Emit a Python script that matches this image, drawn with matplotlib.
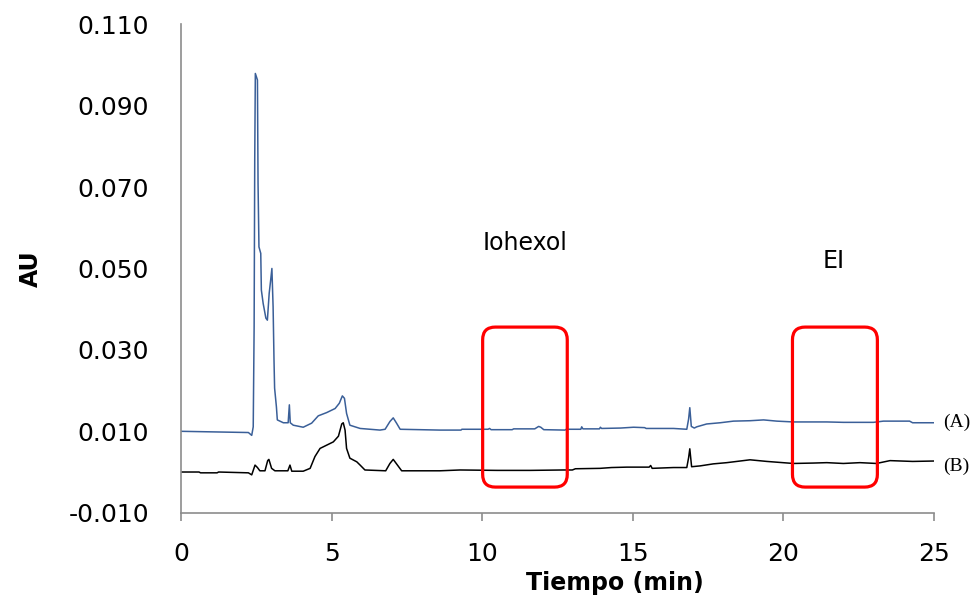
import numpy as np
import matplotlib.pyplot as plt
from matplotlib.patches import FancyBboxPatch

# chromatogram (A): time (min) and absorbance (AU)
time_a = [0, 2.24, 2.35, 2.40, 2.43, 2.45, 2.47, 2.54, 2.56, 2.59, 2.65, 2.67, 2.73, 2.82, 2.87,
          2.93, 2.98, 3.02, 3.06, 3.09, 3.11, 3.17, 3.20, 3.40, 3.56, 3.60, 3.63, 3.73, 4.06, 4.34,
          4.56, 4.84, 5.12, 5.26, 5.36, 5.43, 5.50, 5.61, 5.95, 6.61, 6.78, 6.94, 7.05, 7.16, 7.28,
          8.60, 9.30, 9.33, 10.20, 10.25, 10.30, 11.00, 11.05, 11.75, 11.88, 11.95, 12.05, 12.75,
          12.80, 13.28, 13.31, 13.35, 13.90, 13.93, 13.97, 14.60, 15.03, 15.40, 15.45, 16.36, 16.80,
          16.86, 16.90, 16.95, 17.05, 17.13, 17.46, 17.91, 18.35, 18.90, 19.35, 19.79, 20.34, 21.45,
          22.00, 23.00, 23.33, 24.20, 24.30, 25.0]
abs_a = [0.0100, 0.0097, 0.0090, 0.0111, 0.0357, 0.0767, 0.0979, 0.0963, 0.0709, 0.0553, 0.0537,
         0.0447, 0.0414, 0.0378, 0.0373, 0.0439, 0.0472, 0.0500, 0.0406, 0.0275, 0.0206, 0.0160,
         0.0128, 0.0121, 0.0121, 0.0165, 0.0121, 0.0115, 0.0110, 0.0120, 0.0138, 0.0146, 0.0156,
         0.0169, 0.0187, 0.0181, 0.0144, 0.0115, 0.0107, 0.0103, 0.0105, 0.0124, 0.0133, 0.0120,
         0.0105, 0.0103, 0.0103, 0.0105, 0.0105, 0.0107, 0.0104, 0.0104, 0.0106, 0.0106, 0.0112,
         0.0110, 0.0104, 0.0103, 0.0105, 0.0105, 0.0111, 0.0106, 0.0106, 0.0110, 0.0107, 0.0108,
         0.0110, 0.0109, 0.0107, 0.0107, 0.0105, 0.0130, 0.0158, 0.0112, 0.0108, 0.0111, 0.0118,
         0.0121, 0.0125, 0.0126, 0.0128, 0.0125, 0.0123, 0.0123, 0.0122, 0.0122, 0.0125, 0.0125,
         0.0121, 0.0121]

# chromatogram (B)
time_b = [0, 0.60, 0.65, 1.20, 1.25, 2.24, 2.35, 2.46, 2.54, 2.62, 2.79, 2.88, 2.92, 3.01, 3.12,
          3.55, 3.62, 3.68, 4.06, 4.29, 4.45, 4.62, 4.84, 5.06, 5.23, 5.34, 5.39, 5.45, 5.50, 5.61,
          5.84, 5.95, 6.11, 6.80, 6.94, 7.05, 7.19, 7.33, 8.60, 9.27, 10.50, 11.60, 12.70, 13.00,
          13.10, 13.92, 14.30, 14.81, 15.55, 15.60, 15.65, 16.36, 16.80, 16.86, 16.90, 16.96, 17.24,
          17.68, 18.13, 18.90, 19.46, 20.34, 21.00, 21.45, 22.00, 22.55, 23.10, 23.55, 24.30, 25.0]
abs_b = [0.0000, 0.0000, -0.0002, -0.0002, 0.0000, -0.0002, -0.0007, 0.0017, 0.0011, 0.0003,
         0.0003, 0.0028, 0.0031, 0.0009, 0.0003, 0.0003, 0.0017, 0.0002, 0.0002, 0.0009, 0.0038,
         0.0058, 0.0066, 0.0074, 0.0088, 0.0118, 0.0121, 0.0103, 0.0058, 0.0034, 0.0025, 0.0017,
         0.0005, 0.0003, 0.0021, 0.0031, 0.0017, 0.0003, 0.0003, 0.0005, 0.0004, 0.0004, 0.0005,
         0.0005, 0.0008, 0.0009, 0.0011, 0.0012, 0.0012, 0.0016, 0.0009, 0.0011, 0.0011, 0.0035,
         0.0057, 0.0013, 0.0015, 0.0020, 0.0023, 0.0030, 0.0026, 0.0021, 0.0022, 0.0023, 0.0021,
         0.0023, 0.0021, 0.0028, 0.0026, 0.0027]

# highlighted retention windows: (label, t_start, t_end)
windows = [("Iohexol", 10.02, 12.83), ("EI", 20.31, 23.13)]
window_bottom = -0.0037
window_top = 0.0356

y_ticks = [-0.010, 0.010, 0.030, 0.050, 0.070, 0.090, 0.110]
x_ticks = [0, 5, 10, 15, 20, 25]

plt.rcParams['font.family'] = ['DejaVu Sans']

fig = plt.figure(figsize=(9.74, 6.08), dpi=100)
ax = fig.add_axes([0.1858, 0.1567, 0.7728, 0.8035])

ax.plot(time_b, abs_b, color='black', lw=1.1)
ax.plot(time_a, abs_a, color='#3a5f98', lw=1.1)

ax.set_xlim(0, 25)
ax.set_ylim(-0.010, 0.110)
ax.set_xticks(x_ticks)
ax.set_yticks(y_ticks)
ax.set_yticklabels(["%.3f" % v for v in y_ticks])

for side in ['top', 'right']:
    ax.spines[side].set_visible(False)
for side in ['left', 'bottom']:
    ax.spines[side].set_color('#8c8c8c')
    ax.spines[side].set_linewidth(1.2)

ax.tick_params(axis='x', direction='out', length=6, width=1.2, color='#8c8c8c',
               labelsize=18, pad=15)
ax.tick_params(axis='y', length=0, labelsize=18, pad=23)

ax.set_xlabel("Tiempo (min)", fontsize=17, fontweight='bold', va='center')
ax.xaxis.set_label_coords(0.577, -0.144)
ax.set_ylabel("AU", fontsize=17, fontweight='bold', va='center')
ax.yaxis.set_label_coords(-0.200, 0.50)

# rounded red boxes; keep corner radius round despite the data aspect
fig.canvas.draw()
p0 = ax.transData.transform((0, 0))
p1 = ax.transData.transform((1, 1))
aspect = (p1[0] - p0[0]) / (p1[1] - p0[1])
for name, t0, t1 in windows:
    box = FancyBboxPatch((t0, window_bottom), t1 - t0, window_top - window_bottom,
                         boxstyle="round,pad=0,rounding_size=0.42",
                         mutation_aspect=aspect, fill=False,
                         edgecolor='#ff0000', lw=2.3, zorder=3)
    ax.add_patch(box)

ax.text(10.02, 0.0562, "Iohexol", fontsize=17, ha='left', va='center')
ax.text(21.3, 0.0518, "EI", fontsize=17, ha='left', va='center')

ax.text(25.3, 0.0121, "(A)", fontsize=14, family='Liberation Serif',
        ha='left', va='center', clip_on=False)
ax.text(25.3, 0.0013, "(B)", fontsize=14, family='Liberation Serif',
        ha='left', va='center', clip_on=False)

fig.savefig("out.png", dpi=100)
